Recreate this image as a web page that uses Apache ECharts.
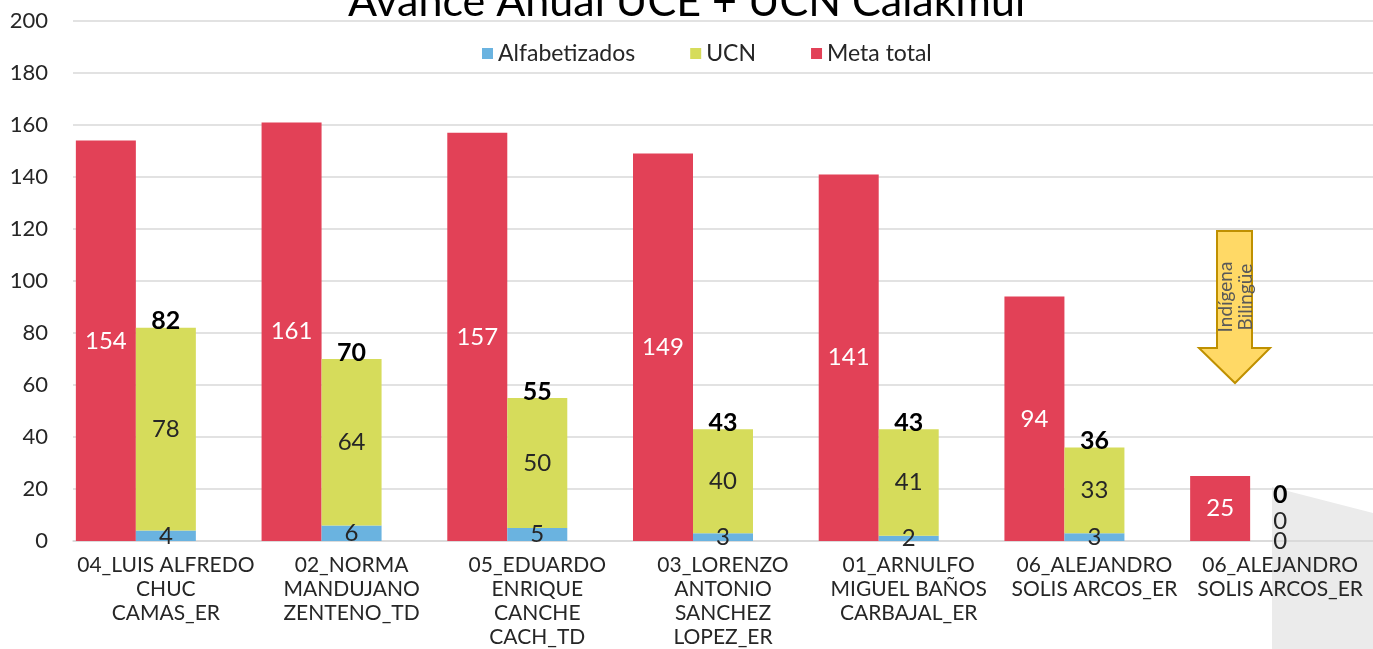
<!DOCTYPE html>
<html><head><meta charset="utf-8">
<script src="https://cdn.jsdelivr.net/npm/echarts@6/dist/echarts.min.js"></script>
<style>html,body{margin:0;padding:0;background:#fff}#c{width:1373px;height:649px}</style>
</head><body><div id="c"></div>
<script>
var categories = [
  "04_LUIS ALFREDO\nCHUC\nCAMAS_ER",
  "02_NORMA\nMANDUJANO\nZENTENO_TD",
  "05_EDUARDO\nENRIQUE\nCANCHE\nCACH_TD",
  "03_LORENZO\nANTONIO\nSANCHEZ\nLOPEZ_ER",
  "01_ARNULFO\nMIGUEL BAÑOS\nCARBAJAL_ER",
  "06_ALEJANDRO\nSOLIS ARCOS_ER",
  "06_ALEJANDRO\nSOLIS ARCOS_ER"
];
var metaTotal = [154, 161, 157, 149, 141, 94, 25];
var alfabetizados = [4, 6, 5, 3, 2, 3, 0];
var ucn = [78, 64, 50, 40, 41, 33, 0];
var totals = [82, 70, 55, 43, 43, 36, 0];
var yTicks = [0, 20, 40, 60, 80, 100, 120, 140, 160, 180, 200];

var FONT = 'Lato, "DejaVu Sans", sans-serif';
var chart = echarts.init(document.getElementById('c'), null, {renderer: 'canvas'});
chart.setOption({
  animation: false,
  textStyle: {fontFamily: FONT},
  title: {
    text: 'Avance Anual UCE + UCN Calakmul',
    left: 'center', top: -24,
    textStyle: {fontFamily: FONT, fontSize: 43, fontWeight: 'normal', color: '#000'}
  },
  legend: {
    data: ['Alfabetizados', 'UCN', 'Meta total'],
    top: 37, left: 477,
    itemWidth: 11, itemHeight: 11, itemGap: 55,
    icon: 'rect',
    textStyle: {fontFamily: FONT, fontSize: 23, color: '#262626'}
  },
  grid: {left: 73, right: 0, top: 21, bottom: 108, containLabel: false},
  xAxis: {
    type: 'category',
    data: categories,
    axisTick: {show: false},
    axisLine: {show: true, lineStyle: {color: '#d9d9d9', width: 1.5}},
    axisLabel: {interval: 0, margin: 12, fontSize: 21, lineHeight: 24, color: '#262626', fontFamily: FONT}
  },
  yAxis: {
    type: 'value', min: yTicks[0], max: yTicks[yTicks.length - 1], interval: 20,
    axisLine: {show: false}, axisTick: {show: false},
    splitLine: {lineStyle: {color: '#d9d9d9', width: 1.5}},
    axisLabel: {margin: 25, fontSize: 22, color: '#262626', fontFamily: FONT}
  },
  series: [
    {
      name: 'Meta total', type: 'bar', data: metaTotal,
      barWidth: 60, barGap: '0%',
      itemStyle: {color: '#E24157'},
      label: {show: true, position: 'inside', color: '#fff', fontSize: 24, fontFamily: FONT}
    },
    {
      name: 'Alfabetizados', type: 'bar', stack: 'avance', data: alfabetizados,
      barWidth: 60,
      itemStyle: {color: '#6AB3E0'},
      label: {show: true, position: 'inside', color: '#262626', fontSize: 24, fontFamily: FONT}
    },
    {
      name: 'UCN', type: 'bar', stack: 'avance',
      data: ucn.map(function (v) {
        return v === 0 ? {value: v, label: {offset: [0, -20]}} : v;
      }),
      barWidth: 60,
      itemStyle: {color: '#D6DC5B'},
      label: {show: true, position: 'inside', color: '#262626', fontSize: 24, fontFamily: FONT}
    },
    {
      name: 'Total', type: 'bar',
      data: totals.map(function (v) {
        return v === 0 ? {value: v, label: {offset: [-60, -40]}} : v;
      }),
      barWidth: 60,
      itemStyle: {color: 'rgba(0,0,0,0)'},
      label: {show: true, position: 'top', distance: -6, offset: [-60, 0], color: '#000', fontSize: 25, fontWeight: 'bold', fontFamily: FONT}
    }
  ],
  graphic: [
    {
      type: 'polygon', z: -10, silent: true,
      shape: {points: [[1272, 487], [1373, 513], [1373, 649], [1272, 649]]},
      style: {fill: '#ebebeb'}
    },
    {
      type: 'polygon', z: 100,
      shape: {points: [[1217, 231], [1252, 231], [1252, 348], [1270, 348], [1235, 383], [1199, 348], [1217, 348]]},
      style: {fill: '#FFD966', stroke: '#BF9000', lineWidth: 2}
    },
    {
      type: 'text', z: 101, x: 1236, y: 297, rotation: Math.PI / 2,
      style: {text: 'Indígena\nBilingüe', fill: '#595959', font: '19px ' + FONT, align: 'center', verticalAlign: 'middle', lineHeight: 20}
    }
  ]
});
</script></body></html>
